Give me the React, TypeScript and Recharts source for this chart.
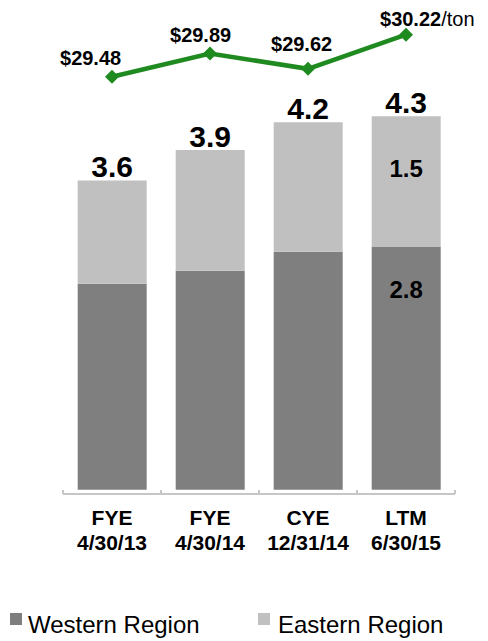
import { Bar, ComposedChart, LabelList, Legend, Line, XAxis, YAxis } from "recharts";

const periods = ["FYE", "FYE", "CYE", "LTM"];
const dates = ["4/30/13", "4/30/14", "12/31/14", "6/30/15"];
const western = [2.37, 2.52, 2.74, 2.8];
const eastern = [1.19, 1.39, 1.49, 1.5];
const totals = ["3.6", "3.9", "4.2", "4.3"];
const westernLabels = ["", "", "", "2.8"];
const easternLabels = ["", "", "", "1.5"];
const price = [29.48, 29.89, 29.62, 30.22];
const priceUnit = ["", "", "", "/ton"];

const data = periods.map((p, i) => ({
  name: `${p} ${dates[i]}`,
  western: western[i],
  eastern: eastern[i],
  price: price[i],
}));

const DARK = "#7f7f7f";
const LIGHT = "#c0c0c0";
const GREEN = "#1f8a1f";
const FONT = "'Liberation Sans', Arial, sans-serif";

// where each price label sits relative to its marker
const priceNudge = [
  { dx: -52, dy: -12 },
  { dx: -40, dy: -11 },
  { dx: -37, dy: -18 },
  { dx: -26, dy: -9 },
];

function CategoryTick({ x, y, index }: any) {
  const half = 49;
  return (
    <g>
      <line x1={x - half} x2={x - half} y1={y - 4} y2={y} stroke="#c6c6c6" strokeWidth={2} />
      {index === periods.length - 1 && (
        <line x1={x + half} x2={x + half} y1={y - 4} y2={y} stroke="#c6c6c6" strokeWidth={2} />
      )}
      <text x={x} y={y + 31} textAnchor="middle" fontFamily={FONT} fontWeight="bold" fontSize={21} fill="#000">
        {periods[index]}
      </text>
      <text x={x} y={y + 56} textAnchor="middle" fontFamily={FONT} fontWeight="bold" fontSize={21} fill="#000">
        {dates[index]}
      </text>
    </g>
  );
}

function Diamond({ cx, cy }: any) {
  const r = 7;
  return <polygon points={`${cx},${cy - r} ${cx + r},${cy} ${cx},${cy + r} ${cx - r},${cy}`} fill={GREEN} />;
}

function PriceLabel({ x, y, index }: any) {
  const n = priceNudge[index];
  return (
    <text x={x + n.dx} y={y + n.dy} textAnchor="start" fontFamily={FONT} fontSize={20} fill="#000">
      <tspan fontWeight="bold">${price[index].toFixed(2)}</tspan>
      <tspan>{priceUnit[index]}</tspan>
    </text>
  );
}

function inner(labels: string[], down: number) {
  return ({ x, y, width, index }: any) =>
    labels[index] ? (
      <text x={x + width / 2} y={y + down} textAnchor="middle" fontFamily={FONT} fontWeight="bold" fontSize={24} fill="#000">
        {labels[index]}
      </text>
    ) : null;
}

function TotalLabel({ x, y, width, index }: any) {
  return (
    <text x={x + width / 2} y={y - 3} textAnchor="middle" fontFamily={FONT} fontWeight="bold" fontSize={30} fill="#000">
      {totals[index]}
    </text>
  );
}

function LegendBox() {
  const text = { position: "absolute" as const, top: 12, fontFamily: FONT, fontSize: 24, lineHeight: "24px", color: "#000", whiteSpace: "nowrap" as const };
  return (
    <div style={{ position: "relative", width: 488, height: 36 }}>
      <div style={{ position: "absolute", left: 10, top: 12, width: 12, height: 12, background: DARK }} />
      <div style={{ ...text, left: 28 }}>Western Region</div>
      <div style={{ position: "absolute", left: 258, top: 12, width: 12, height: 12, background: LIGHT }} />
      <div style={{ ...text, left: 278 }}>Eastern Region</div>
    </div>
  );
}

export default function App() {
  return (
    <div style={{ position: "absolute", left: 0, top: 0, width: 488, height: 641, background: "#fff" }}>
      <ComposedChart
        width={488}
        height={641}
        data={data}
        margin={{ top: 12, right: 33, bottom: 4, left: 63 }}
        barCategoryGap="15%"
      >
        <XAxis
          dataKey="name"
          height={107}
          interval={0}
          tickLine={false}
          tickSize={0}
          tickMargin={0}
          axisLine={{ stroke: "#c6c6c6", strokeWidth: 2 }}
          tick={<CategoryTick />}
        />
        <YAxis yAxisId="vol" hide domain={[-0.05, 5.5]} />
        <YAxis yAxisId="price" hide orientation="right" domain={[22.14, 30.62]} />
        <Legend
          verticalAlign="bottom"
          wrapperStyle={{ left: 0, width: 488 }}
          content={() => <LegendBox />}
        />
        <Bar yAxisId="vol" dataKey="western" stackId="a" fill={DARK} isAnimationActive={false}>
          <LabelList dataKey="western" content={inner(westernLabels, 52)} />
        </Bar>
        <Bar yAxisId="vol" dataKey="eastern" stackId="a" fill={LIGHT} isAnimationActive={false}>
          <LabelList dataKey="eastern" content={inner(easternLabels, 61)} />
          <LabelList dataKey="eastern" content={<TotalLabel />} />
        </Bar>
        <Line
          yAxisId="price"
          dataKey="price"
          type="linear"
          stroke={GREEN}
          strokeWidth={4.5}
          dot={<Diamond />}
          activeDot={false}
          isAnimationActive={false}
        >
          <LabelList dataKey="price" content={<PriceLabel />} />
        </Line>
      </ComposedChart>
    </div>
  );
}
